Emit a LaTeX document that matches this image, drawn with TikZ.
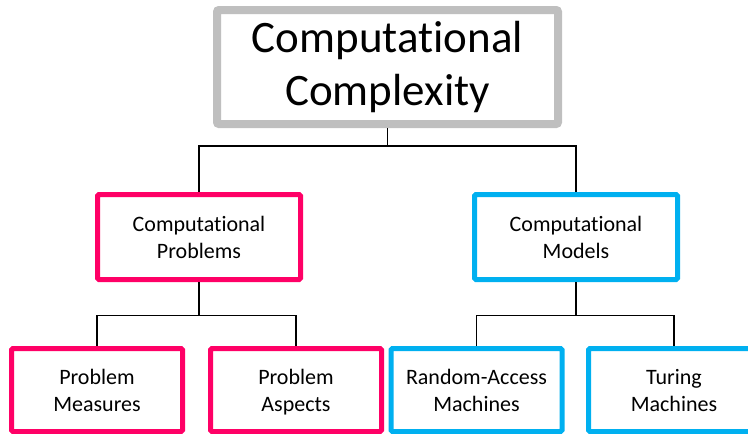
\documentclass[tikz,border=0pt]{standalone}
\usepackage{fontspec}
\setmainfont{Carlito}[Ligatures=NoCommon]
\definecolor{rootgray}{RGB}{191,191,191}
\definecolor{probpink}{RGB}{255,0,102}
\definecolor{modelblue}{RGB}{0,176,240}
\tikzset{
    rootbox/.style={draw=rootgray, line width=8pt, rounded corners=2pt, fill=white, inner sep=0pt,
        minimum width=341pt, minimum height=114pt, align=center, font=\fontsize{45}{53}\selectfont},
    midbox/.style={line width=5pt, rounded corners=1.5pt, fill=white, inner sep=0pt,
        minimum width=203pt, minimum height=85pt, align=center, font=\fontsize{22}{27}\selectfont,
        text depth=0pt},
    leafbox/.style={midbox, minimum width=171pt, minimum height=83pt},
    wire/.style={draw, line width=1.2pt}
}
\begin{document}
\begin{tikzpicture}[x=1pt, y=-1pt]
        \useasboundingbox (0, 0) rectangle (748, 434);

        % Draw boxes
        \node[rootbox] (cc) at (387.5, 67) {Computational\\Complexity};
        \node[midbox, draw=probpink] (cp) at (199, 237) {Computational\\Problems};
        \node[midbox, draw=modelblue] (cm) at (576, 237) {Computational\\Models};
        \node[leafbox, draw=probpink] (pm) at (97, 390) {Problem\\Measures};
        \node[leafbox, draw=probpink] (pa) at (296, 390) {Problem\\Aspects};
        \node[leafbox, draw=modelblue] (ram) at (476.5, 390) {Random-Access\\Machines};
        \node[leafbox, draw=modelblue] (tm) at (674, 390) {Turing\\Machines};

        % Draw connectors
        \draw[wire] (cc.south) -- ++(0, 18) -| (cp.north);
        \draw[wire] (cc.south) -- ++(0, 18) -| (cm.north);
        \draw[wire] (cp.south) -- ++(0, 33.5) -| (pm.north);
        \draw[wire] (cp.south) -- ++(0, 33.5) -| (pa.north);
        \draw[wire] (cm.south) -- ++(0, 33.5) -| (ram.north);
        \draw[wire] (cm.south) -- ++(0, 33.5) -| (tm.north);
    \end{tikzpicture}
\end{document}
